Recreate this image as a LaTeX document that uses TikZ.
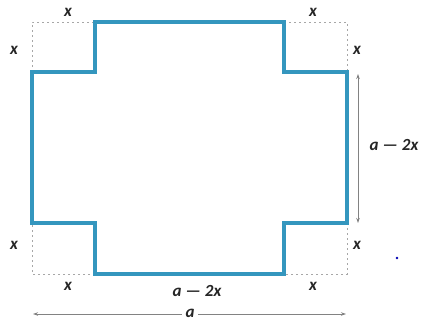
\documentclass[tikz,border=0pt]{standalone}
\usepackage{fontspec}
\setmainfont{Carlito}
\usetikzlibrary{arrows.meta}
\definecolor{shapeblue}{RGB}{52,150,190}
\definecolor{dimgray}{RGB}{130,130,130}
\newcommand{\amtwo}{a\hspace{4pt}—\hspace{4pt}2x}
\begin{document}
\begin{tikzpicture}[x=1pt,y=-1pt,
  outline/.style={draw=shapeblue,line width=3.2pt,line join=miter},
  guide/.style={draw=dimgray!70,dash pattern=on 2pt off 3pt,line width=0.9pt},
  dim/.style={draw=dimgray,line width=0.9pt,{Stealth[length=5pt,width=3.5pt]}-{Stealth[length=5pt,width=3.5pt]}},
  lab/.style={font=\fontsize{17}{17}\selectfont\itshape\bfseries,text=black!85,inner sep=0pt}]
\useasboundingbox (0,0) rectangle (426,325);
% corners
\coordinate (o1) at (32,22);
\coordinate (o2) at (347,22);
\coordinate (o3) at (347,274);
\coordinate (o4) at (32,274);
% cut-out guides
\draw[guide] (32,72) -- (o1) -- (95,22);
\draw[guide] (284,22) -- (o2) -- (347,72);
\draw[guide] (347,223) -- (o3) -- (284,274);
\draw[guide] (95,274) -- (o4) -- (32,223);
% shape
\draw[outline] (95,22) -- (284,22) -- (284,72) -- (347,72) -- (347,223) -- (284,223)
  -- (284,274) -- (95,274) -- (95,223) -- (32,223) -- (32,72) -- (95,72) -- cycle;
% dimensions
\coordinate (v1) at (358,74);
\coordinate (v2) at (358,223);
\draw[dim] (v1) -- (v2);
\coordinate (h1) at (33,314);
\coordinate (h2) at (346,314);
\draw[dim] (h1) -- (h2);
% labels
\node[lab] (x1) at (68,12) {x};
\node[lab] (x2) at (14,50) {x};
\node[lab] (x3) at (313,12) {x};
\node[lab] (x4) at (357,50) {x};
\node[lab] (x5) at (14,245) {x};
\node[lab] (x6) at (68,286) {x};
\node[lab] (x7) at (313,286) {x};
\node[lab] (x8) at (357,245) {x};
\node[lab] (ar) at (394,145) {\amtwo};
\node[lab] (ab) at (197,291) {\amtwo};
\node[lab,fill=white,inner xsep=4pt,inner ysep=1pt] (aa) at (190,313) {a};
\fill[blue!70!black] (397,258) circle (1.4);
\end{tikzpicture}
\end{document}
